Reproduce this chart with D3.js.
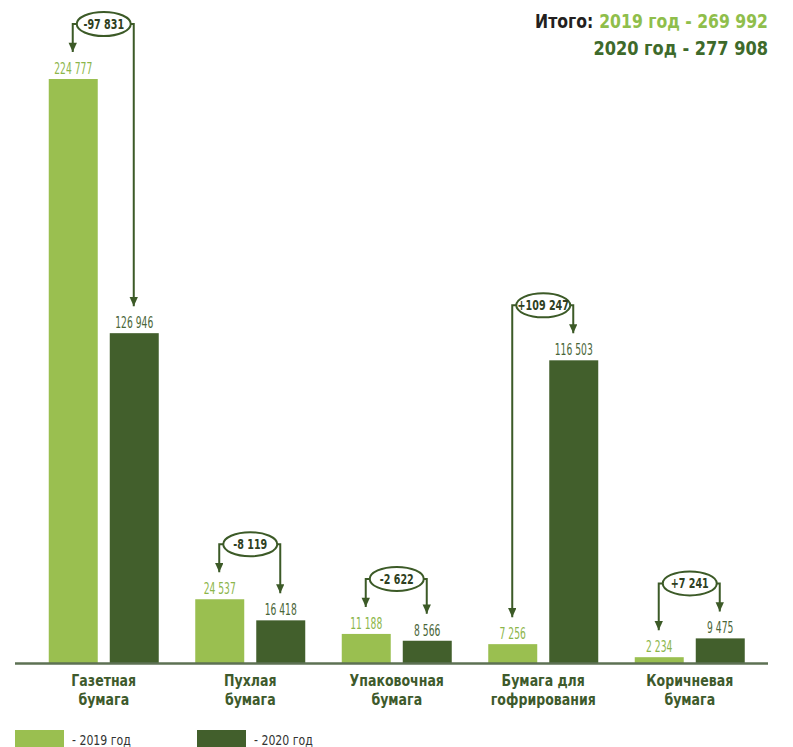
<!DOCTYPE html>
<html><head><meta charset="utf-8">
<script src="https://cdn.jsdelivr.net/npm/d3@7"></script>
<style>
html,body{margin:0;padding:0;background:#fff;}
svg{display:block;}
</style></head>
<body>
<svg id="chart" width="793" height="747"></svg>
<script>
const categories = [["Газетная","бумага"],["Пухлая","бумага"],["Упаковочная","бумага"],["Бумага для","гофрирования"],["Коричневая","бумага"]];
const years = ["2019","2020"];
const values2019 = [224777, 24537, 11188, 7256, 2234];
const values2020 = [126946, 16418, 8566, 116503, 9475];
const legendLabels = ["- 2019 год", "- 2020 год"];
const totalPrefix = "Итого:";
const yearWord = " год - ";

const light = "#9abf50", dark = "#425f2c";
const lightText = "#8cb54a", darkText = "#4a6638", catColor = "#3e5a2c", lineColor = "#3c5a27";
const narrow = "'DejaVu Sans Condensed','Liberation Sans Narrow',sans-serif";
const fmt = d3.formatLocale({decimal: ",", thousands: " ", grouping: [3], currency: ["", ""]}).format(",d");
const signed = v => (v > 0 ? "+" : "-") + fmt(Math.abs(v));
function squeeze(sel, k) {
  sel.each(function() {
    const l = this.getComputedTextLength();
    d3.select(this).attr("textLength", l * k).attr("lengthAdjust", "spacingAndGlyphs");
  });
}

const svg = d3.select("#chart");
const baseY = 663;
const y = d3.scaleLinear().domain([0, d3.max(values2019.concat(values2020))]).range([baseY, 79]);
const x0 = d3.scaleBand().domain(categories.map(c => c.join(" "))).range([30.5, 763]).padding(0);
const x1 = d3.scaleBand().domain(years).range([-55, 55]).paddingInner(0.197).paddingOuter(0);
const color = d3.scaleOrdinal().domain(years).range([light, dark]);
const textColor = d3.scaleOrdinal().domain(years).range([lightText, darkText]);

const data = categories.map((c, i) => ({
  key: c.join(" "), lines: c,
  vals: [{year: "2019", v: values2019[i]}, {year: "2020", v: values2020[i]}]
}));

const defs = svg.append("defs");
defs.append("marker").attr("id", "arr").attr("viewBox", "0 0 10 12")
  .attr("refX", 11).attr("refY", 5).attr("markerWidth", 11).attr("markerHeight", 10)
  .attr("markerUnits", "userSpaceOnUse").attr("orient", "auto")
  .append("path").attr("d", "M0,0 L11,5 L0,10 Z").attr("fill", lineColor);

const g = svg.selectAll("g.grp").data(data).join("g").attr("class", "grp")
  .attr("transform", d => `translate(${x0(d.key) + x0.bandwidth() / 2},0)`);

// bars
g.selectAll("rect").data(d => d.vals).join("rect")
  .attr("x", d => x1(d.year)).attr("width", x1.bandwidth())
  .attr("y", d => y(d.v)).attr("height", d => baseY - y(d.v))
  .attr("fill", d => color(d.year));

// value labels
g.selectAll("text.val").data(d => d.vals).join("text").attr("class", "val")
  .attr("x", d => x1(d.year) + x1.bandwidth() / 2)
  .attr("y", d => y(d.v) - 5)
  .attr("text-anchor", "middle")
  .attr("font-family", narrow).attr("font-size", 15)
  .attr("fill", d => textColor(d.year))
  .text(d => fmt(d.v))
  .call(squeeze, 0.68);

// annotations
g.each(function(d) {
  const gg = d3.select(this);
  const tops = d.vals.map(v => y(v.v));
  const tips = tops.map(t => t - 27);
  const ey = Math.min(...tops) - 55;
  const rx = 27, ry = 12;
  const xs = d.vals.map(v => x1(v.year) + x1.bandwidth() / 2 - 0.5);
  xs.forEach((xx, k) => {
    const ex = k === 0 ? -rx : rx;
    gg.append("path")
      .attr("d", `M${ex},${ey} L${xx},${ey} L${xx},${tips[k]}`)
      .attr("fill", "none").attr("stroke", lineColor).attr("stroke-width", 2)
      .attr("marker-end", "url(#arr)");
  });
  gg.append("ellipse").attr("cx", 0).attr("cy", ey).attr("rx", rx).attr("ry", ry)
    .attr("fill", "#fff").attr("stroke", lineColor).attr("stroke-width", 2);
  gg.append("text").attr("x", 0).attr("y", ey + 5).attr("text-anchor", "middle")
    .attr("font-family", narrow).attr("font-weight", "bold").attr("font-size", 14)
    .attr("fill", "#2f3f22")
    .text(signed(d.vals[1].v - d.vals[0].v))
    .call(squeeze, 0.76);
});

// category labels
g.selectAll("text.cat").data(d => d.lines).join("text").attr("class", "cat")
  .attr("x", 0).attr("y", (d, i) => 686 + i * 19)
  .attr("text-anchor", "middle")
  .attr("font-family", narrow).attr("font-weight", "bold").attr("font-size", 15)
  .attr("fill", catColor).text(d => d)
  .call(squeeze, 0.93);

// baseline
svg.append("line").attr("x1", 15).attr("x2", 768).attr("y1", baseY + 0.5).attr("y2", baseY + 0.5)
  .attr("stroke", "#5d7153").attr("stroke-width", 2.5);

// totals
const sum19 = d3.sum(values2019), sum20 = d3.sum(values2020);
const tA = svg.append("text").attr("x", 768).attr("y", 28).attr("text-anchor", "end")
  .attr("font-family", narrow).attr("font-weight", "bold").attr("font-size", 20)
  .attr("fill", "#8fbe4b").text(years[0] + yearWord + fmt(sum19))
  .call(squeeze, 0.87);
const wA = +tA.attr("textLength");
svg.append("text").attr("x", 768 - wA - 6).attr("y", 28).attr("text-anchor", "end")
  .attr("font-family", narrow).attr("font-weight", "bold").attr("font-size", 20)
  .attr("fill", "#231f20").text(totalPrefix)
  .call(squeeze, 0.87);
svg.append("text").attr("x", 768).attr("y", 55).attr("text-anchor", "end")
  .attr("font-family", narrow).attr("font-weight", "bold").attr("font-size", 20)
  .attr("fill", "#3e6a2b").text(years[1] + yearWord + fmt(sum20))
  .call(squeeze, 0.9);

// legend
const lg = svg.selectAll("g.leg").data(years).join("g").attr("class", "leg")
  .attr("transform", (d, i) => `translate(${15 + i * 182},730)`);
lg.append("rect").attr("width", 49).attr("height", 17).attr("fill", d => color(d));
lg.append("text").attr("x", 57).attr("y", 15)
  .attr("font-family", narrow).attr("font-size", 14).attr("fill", "#333")
  .text((d, i) => legendLabels[i])
  .call(squeeze, 0.87);
</script>
</body></html>
